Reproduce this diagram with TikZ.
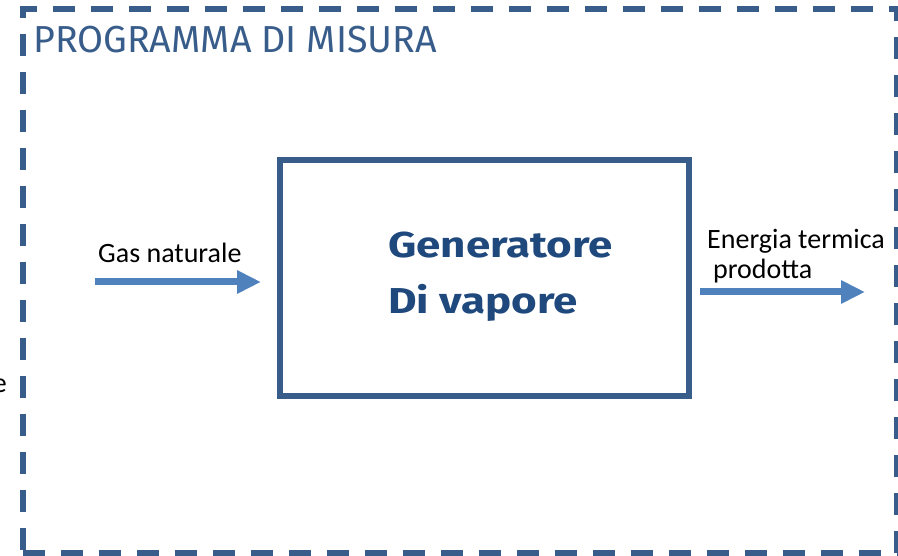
\documentclass[tikz,border=0pt]{standalone}
\usepackage{fontspec}
\setmainfont{Carlito}
\newfontfamily\titlefont{Fira Sans}
\usetikzlibrary{arrows.meta,positioning,calc}
\definecolor{cFrame}{HTML}{385D8A}
\definecolor{cFlow}{HTML}{4F81BD}
\definecolor{cLabel}{HTML}{1F497D}
\newcommand{\wideword}[1]{\scalebox{1.22}[1]{#1}}

\begin{document}
\begin{tikzpicture}[x=1pt,y=-1pt,
  framedash/.style={cFrame,line width=5.5pt,dash pattern=on 22pt off 16pt},
  flow/.style={cFlow,line width=7pt,-{Triangle[length=24pt,width=22pt]}},
  flowlabel/.style={font=\fontsize{28}{30}\selectfont,inner sep=0pt,align=left}]
  \useasboundingbox (0,0) rectangle (898,556);
  % measuring program frame
  \draw[framedash,dash phase=5.25pt] (20.25,9) -- (899.75,9);
  \draw[framedash,dash phase=13.3pt] (23,9) -- (23,553);
  \draw[framedash,dash phase=35.25pt] (20.25,553) -- (899.75,553);
  \draw[framedash,dash phase=10pt] (897,9) -- (897,553);
  \node[cFrame,anchor=base west,inner sep=0pt,font=\titlefont\fontsize{37.6}{40}\selectfont] (title) at (33,53) {PROGRAMMA DI MISURA};
  \node[anchor=base east,inner sep=0pt,font=\fontsize{28}{30}\selectfont] (cut) at (7,392) {e};
  % steam generator
  \node[draw=cFrame,line width=6pt,inner sep=0pt,minimum width=408.5pt,minimum height=236.5pt] (gen) at (484.25,278.25) {};
  \node[cLabel,anchor=north west,inner sep=0pt,align=left,font=\titlefont\bfseries\fontsize{36}{56}\selectfont] (genlabel) at (388,232) {\wideword{Generatore}\\\wideword{Di vapore}};
  % flows
  \coordinate (gasin) at (95,282);
  \coordinate (heatout) at (865,292);
  \draw[flow,shorten >=16pt] (gasin) -- (gasin -| gen.west);
  \draw[flow,shorten <=8pt] (gen.east |- heatout) -- (heatout);
  \node[flowlabel,anchor=base west] (gaslabel) at (98,263) {Gas naturale};
  \node[flowlabel,anchor=north west] (heatlabel) at (707,229) {Energia termica\\\hspace*{6pt}prodotta};
\end{tikzpicture}
\end{document}
